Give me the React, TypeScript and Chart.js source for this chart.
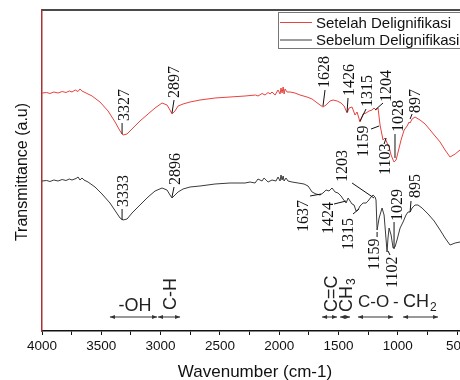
import React, { useEffect, useRef } from 'react';
import { Chart, registerables } from 'chart.js';

Chart.register(...registerables);

// ---- data (wavenumber cm-1, transmittance a.u.) ----
const seriesLabels = ['Setelah Delignifikasi', 'Sebelum Delignifikasi'];

const setelahSpectrum: [number, number][] = [
  [4000, 23.8], [3960, 23.85], [3933, 23.75], [3900, 23.9], [3865, 23.8], [3830, 23.95],
  [3798, 23.85], [3770, 24.0], [3747, 23.9], [3720, 24.1], [3696, 23.95], [3680, 24.2],
  [3663, 24.0], [3629, 23.8], [3578, 23.5], [3511, 22.9], [3443, 22.0], [3384, 20.9],
  [3342, 20.0], [3317, 19.6], [3283, 19.7], [3233, 20.3], [3174, 21.0], [3106, 21.7],
  [3047, 22.3], [2988, 22.8], [2946, 22.6], [2921, 22.1], [2904, 21.7], [2879, 22.0],
  [2853, 22.5], [2811, 22.7], [2752, 22.9], [2668, 23.1], [2541, 23.3], [2415, 23.4],
  [2288, 23.5], [2200, 23.6], [2179, 23.5], [2145, 23.75], [2120, 23.6], [2094, 23.85],
  [2077, 23.7], [2061, 23.9], [2035, 23.6], [2010, 24.1], [1993, 23.7], [1985, 24.3],
  [1976, 23.8], [1967, 24.4], [1959, 23.7], [1951, 24.2], [1934, 23.9], [1909, 23.9],
  [1867, 23.8], [1825, 23.6], [1766, 23.4], [1723, 23.2], [1690, 22.9], [1656, 22.6],
  [1631, 22.4], [1605, 22.6], [1572, 23.0], [1546, 23.1], [1512, 23.0], [1479, 22.8],
  [1453, 22.5], [1428, 21.8], [1411, 22.3], [1386, 22.4], [1361, 21.6], [1344, 21.9],
  [1319, 20.9], [1293, 21.7], [1268, 21.8], [1243, 22.0], [1217, 22.1], [1201, 22.3],
  [1184, 22.1], [1167, 22.3], [1150, 20.6], [1125, 19.1], [1108, 19.3], [1091, 18.8],
  [1074, 18.4], [1057, 17.6], [1040, 17.1], [1032, 16.9], [1015, 17.1], [998, 17.9],
  [973, 19.1], [947, 20.1], [922, 20.5], [905, 20.9], [897, 20.8], [880, 21.2],
  [855, 21.4], [813, 21.1], [770, 20.7], [728, 20.1], [686, 19.5], [644, 18.9],
  [602, 18.1], [560, 17.4], [517, 17.7], [476, 18.1],
];

const sebelumSpectrum: [number, number][] = [
  [4000, 15.0], [3960, 15.05], [3933, 14.95], [3900, 15.1], [3865, 15.0], [3830, 15.15],
  [3798, 15.05], [3770, 15.2], [3747, 15.1], [3713, 15.25], [3696, 15.4], [3680, 15.1],
  [3663, 15.3], [3646, 15.1], [3612, 14.9], [3553, 14.4], [3494, 13.7], [3427, 12.8],
  [3376, 11.9], [3342, 11.3], [3317, 11.1], [3283, 11.2], [3241, 11.8], [3174, 12.6],
  [3106, 13.4], [3047, 14.0], [2988, 14.3], [2946, 14.1], [2921, 13.6], [2904, 13.3],
  [2879, 13.6], [2853, 13.9], [2811, 14.2], [2752, 14.4], [2668, 14.5], [2541, 14.7],
  [2415, 14.8], [2288, 14.8], [2246, 14.9], [2204, 14.8], [2179, 15.2], [2145, 15.0],
  [2128, 15.3], [2094, 14.9], [2061, 15.1], [2027, 15.0], [2010, 15.4], [1993, 15.0],
  [1985, 15.6], [1976, 15.1], [1967, 15.5], [1959, 15.0], [1943, 15.3], [1926, 15.0],
  [1892, 14.9], [1841, 14.8], [1791, 14.7], [1757, 14.5], [1723, 13.9], [1690, 13.7],
  [1656, 13.6], [1631, 13.8], [1605, 14.1], [1580, 14.0], [1555, 14.3], [1529, 13.9],
  [1504, 13.8], [1479, 13.5], [1462, 13.2], [1436, 12.8], [1419, 13.3], [1403, 13.0],
  [1386, 12.7], [1369, 12.6], [1352, 12.0], [1336, 12.1], [1319, 12.5], [1293, 12.8],
  [1268, 12.8], [1251, 13.0], [1226, 13.4], [1209, 13.6], [1192, 13.4], [1184, 13.1],
  [1175, 10.1], [1158, 11.3], [1133, 12.3], [1116, 11.6], [1099, 9.1], [1091, 7.9],
  [1083, 9.3], [1074, 10.3], [1057, 9.6], [1040, 8.3], [1024, 8.4], [1007, 9.1],
  [981, 10.3], [956, 10.9], [931, 11.6], [914, 11.9], [897, 11.9], [880, 12.3],
  [855, 12.6], [830, 12.6], [796, 12.3], [745, 11.7], [694, 11.0], [644, 10.1],
  [602, 9.3], [560, 8.6], [517, 8.8], [476, 8.9],
];

const xTickValues = [4000, 3750, 3500, 3250, 3000, 2750, 2500, 2250, 2000, 1750, 1500, 1250, 1000, 750, 500];

const xTitle = 'Wavenumber (cm-1)';
const yTitle = 'Transmittance (a.u)';

// ---- annotation placement (data coordinates) ----
type PeakNote = { t: string; at: [number, number]; line: [number, number, number, number] };

const setelahPeakNotes: PeakNote[] = [
  { t: '3327', at: [3309, 21.0], line: [3325, 19.7, 3325, 20.8] },
  { t: '2897', at: [2887, 23.3], line: [2904, 21.8, 2887, 23.1] },
  { t: '1628', at: [1622, 24.3], line: [1631, 22.5, 1614, 24.1] },
  { t: '1426', at: [1411, 23.5], line: [1428, 21.9, 1420, 23.3] },
  { t: '1315', at: [1260, 22.4], line: [1319, 21.0, 1268, 22.2] },
  { t: '1204', at: [1099, 22.9], line: [1192, 22.1, 1125, 22.8] },
  { t: '1159', at: [1293, 17.4], line: [1226, 20.2, 1158, 20.5] },
  { t: '1103', at: [1108, 15.6], line: [1116, 18.7, 1099, 19.3] },
  { t: '1028', at: [998, 19.9], line: [1024, 19.7, 1024, 17.3] },
  { t: '897', at: [855, 21.8], line: [897, 21.2, 880, 21.7] },
];

const sebelumPeakNotes: PeakNote[] = [
  { t: '3333', at: [3317, 12.4], line: [3325, 11.1, 3325, 12.2] },
  { t: '2896', at: [2879, 14.6], line: [2904, 13.4, 2887, 14.4] },
  { t: '1637', at: [1799, 9.9], line: [1740, 13.5, 1647, 13.7] },
  { t: '1424', at: [1588, 9.7], line: [1538, 12.7, 1436, 13.0] },
  { t: '1315', at: [1420, 8.1], line: [1378, 11.7, 1327, 12.2] },
  { t: '1203', at: [1470, 14.9], line: [1386, 14.8, 1201, 13.3] },
  { t: '1159', at: [1201, 6.1], line: [1175, 9.4, 1175, 9.9] },
  { t: '1102', at: [1049, 4.3], line: [1066, 7.6, 1083, 8.0] },
  { t: '1029', at: [1007, 11.0], line: [1032, 10.9, 1032, 8.2] },
  { t: '895', at: [855, 13.3], line: [897, 11.9, 889, 13.0] },
];

// functional-group range arrows [from, to] in wavenumber, at a.u. level
const groupArrowLevel = 1.4;
const groupRanges: [number, number][] = [
  [3427, 3030], [3022, 2836], [1639, 1513], [1487, 1403], [1336, 1040], [956, 661],
];

const SANS = '"Liberation Sans", Arial, sans-serif';
const SERIF = '"Liberation Serif", "Times New Roman", serif';

const decorPlugin = {
  id: 'decor',
  afterDraw(chart: any) {
    const { ctx, chartArea, scales } = chart;
    const x = scales.x;
    const y = scales.y;
    const X = (v: number) => x.getPixelForValue(v);
    const Y = (v: number) => y.getPixelForValue(v);
    ctx.save();

    // top frame line
    ctx.strokeStyle = '#4a4a4a';
    ctx.lineWidth = 2;
    ctx.beginPath();
    ctx.moveTo(chartArea.left, chartArea.top);
    ctx.lineTo(chartArea.right + 2, chartArea.top);
    ctx.stroke();

    // peak labels
    const drawNotes = (notes: PeakNote[]) => {
      for (const n of notes) {
        ctx.strokeStyle = '#111';
        ctx.lineWidth = 1;
        ctx.beginPath();
        ctx.moveTo(X(n.line[0]), Y(n.line[1]));
        ctx.lineTo(X(n.line[2]), Y(n.line[3]));
        ctx.stroke();
        ctx.save();
        ctx.translate(X(n.at[0]), Y(n.at[1]));
        ctx.rotate(-Math.PI / 2);
        ctx.fillStyle = '#111';
        ctx.font = `16px ${SERIF}`;
        ctx.textAlign = 'left';
        ctx.textBaseline = 'middle';
        ctx.fillText(n.t, 0, 1);
        ctx.restore();
      }
    };
    drawNotes(setelahPeakNotes);
    drawNotes(sebelumPeakNotes);

    // group arrows
    ctx.strokeStyle = '#333';
    ctx.fillStyle = '#333';
    ctx.lineWidth = 1;
    const ay = Y(groupArrowLevel);
    for (const [a, b] of groupRanges) {
      const x1 = X(a);
      const x2 = X(b);
      ctx.beginPath();
      ctx.moveTo(x1, ay);
      ctx.lineTo(x2, ay);
      ctx.stroke();
      ctx.beginPath();
      ctx.moveTo(x1, ay);
      ctx.lineTo(x1 + 5, ay - 2);
      ctx.lineTo(x1 + 5, ay + 2);
      ctx.closePath();
      ctx.fill();
      ctx.beginPath();
      ctx.moveTo(x2, ay);
      ctx.lineTo(x2 - 5, ay - 2);
      ctx.lineTo(x2 - 5, ay + 2);
      ctx.closePath();
      ctx.fill();
    }

    // group labels
    ctx.fillStyle = '#222';
    ctx.font = `18px ${SANS}`;
    ctx.textBaseline = 'middle';
    ctx.textAlign = 'center';
    ctx.fillText('-OH', X(3216), Y(2.5));
    ctx.textAlign = 'left';
    ctx.font = `17px ${SANS}`;
    ctx.fillText('C-O', X(1336), Y(2.9));
    ctx.fillText('-', X(1040), Y(2.9));
    ctx.font = `18px ${SANS}`;
    const chX = X(956);
    ctx.fillText('CH', chX, Y(2.9));
    const chW = ctx.measureText('CH').width;
    ctx.font = `12px ${SANS}`;
    ctx.fillText('2', chX + chW + 1, Y(2.9) + 6);

    const rotText = (wn: number, v: number, parts: { s: string; sub?: boolean }[]) => {
      ctx.save();
      ctx.translate(X(wn), Y(v));
      ctx.rotate(-Math.PI / 2);
      ctx.textAlign = 'left';
      ctx.textBaseline = 'middle';
      let off = 0;
      for (const p of parts) {
        ctx.font = p.sub ? `12px ${SANS}` : `18px ${SANS}`;
        ctx.fillText(p.s, off + (p.sub ? 1 : 0), p.sub ? 6 : 1);
        off += ctx.measureText(p.s).width + (p.sub ? 1 : 0);
      }
      ctx.restore();
    };
    rotText(2921, 2.1, [{ s: 'C-H' }]);
    rotText(1563, 1.9, [{ s: 'C=C' }]);
    rotText(1440, 1.9, [{ s: 'CH' }, { s: '3', sub: true }]);

    // legend
    const lx = 278;
    const ly = 12;
    ctx.strokeStyle = '#777';
    ctx.lineWidth = 1;
    ctx.strokeRect(lx + 0.5, ly + 0.5, 200, 36);
    const ds = chart.data.datasets;
    const rows = [22.5, 40];
    ds.forEach((d: any, i: number) => {
      ctx.strokeStyle = d.borderColor;
      ctx.lineWidth = 1;
      ctx.beginPath();
      ctx.moveTo(lx + 2, rows[i]);
      ctx.lineTo(lx + 34, rows[i]);
      ctx.stroke();
      ctx.fillStyle = '#111';
      ctx.font = `15px ${SANS}`;
      ctx.textAlign = 'left';
      ctx.textBaseline = 'middle';
      ctx.fillText(d.label, lx + 38, rows[i] + 1);
    });

    // axis titles
    ctx.fillStyle = '#111';
    ctx.font = `17px ${SANS}`;
    ctx.textAlign = 'center';
    ctx.textBaseline = 'middle';
    ctx.fillText(xTitle, 255, 372);
    ctx.save();
    ctx.translate(23, 172);
    ctx.rotate(-Math.PI / 2);
    ctx.font = `16px ${SANS}`;
    ctx.fillText(yTitle, 0, 0);
    ctx.restore();

    ctx.restore();
  },
};

export default function App() {
  const canvasRef = useRef<HTMLCanvasElement | null>(null);

  useEffect(() => {
    const canvas = canvasRef.current;
    if (!canvas) return;
    const chart = new Chart(canvas, {
      type: 'line',
      data: {
        datasets: [
          {
            label: seriesLabels[0],
            data: setelahSpectrum.map(([w, v]) => ({ x: w, y: v })),
            borderColor: '#e8413f',
            borderWidth: 1,
            pointRadius: 0,
            tension: 0,
          },
          {
            label: seriesLabels[1],
            data: sebelumSpectrum.map(([w, v]) => ({ x: w, y: v })),
            borderColor: '#3a3a3a',
            borderWidth: 1,
            pointRadius: 0,
            tension: 0,
          },
        ],
      },
      options: {
        responsive: false,
        animation: false,
        devicePixelRatio: 1,
        layout: { padding: { top: 10, right: 0, bottom: 0, left: 0 }, autoPadding: false },
        plugins: { legend: { display: false }, tooltip: { enabled: false }, title: { display: false } },
        events: [],
        scales: {
          x: {
            type: 'linear',
            min: 476,
            max: 4000,
            reverse: true,
            afterBuildTicks: (s: any) => {
              s.ticks = xTickValues.map((v) => ({ value: v }));
            },
            afterFit: (s: any) => {
              s.height = 49;
              s.paddingLeft = 0;
              s.paddingRight = 0;
              s.paddingTop = 0;
              s.paddingBottom = 0;
            },
            ticks: {
              autoSkip: false,
              maxRotation: 0,
              minRotation: 0,
              padding: 3,
              color: '#111',
              font: { family: SANS, size: 13.5 },
              callback: (v: any) => (Number(v) % 500 === 0 ? String(v) : ''),
            },
            grid: { display: true, drawOnChartArea: false, drawTicks: true, tickLength: 4, color: '#111', lineWidth: 1 },
            border: { display: true, color: '#111', width: 1.5 },
          },
          y: {
            type: 'linear',
            min: 0,
            max: 32.1,
            afterFit: (s: any) => {
              s.width = 42;
              s.paddingTop = 0;
              s.paddingBottom = 0;
            },
            ticks: { display: false },
            grid: { display: false, drawTicks: false },
            border: { display: true, color: '#a83232', width: 1.5 },
          },
        },
      },
      plugins: [decorPlugin],
    } as any);
    return () => chart.destroy();
  }, []);

  return (
    <div style={{ position: 'absolute', left: 0, top: 0, width: 460, height: 380, background: '#fff' }}>
      <canvas ref={canvasRef} width={460} height={380} style={{ display: 'block' }} />
    </div>
  );
}
